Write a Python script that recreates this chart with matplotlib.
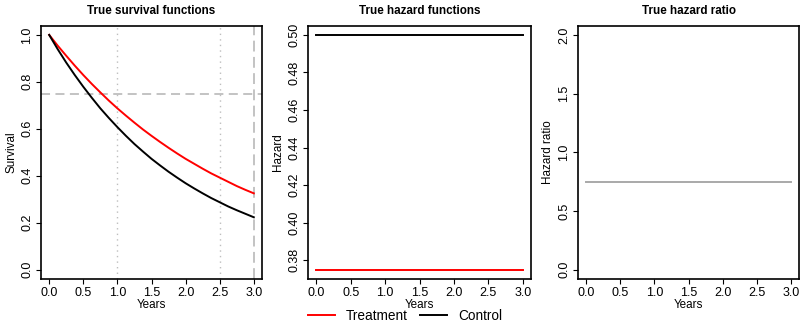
import matplotlib
matplotlib.use("Agg")
import matplotlib.pyplot as plt
from matplotlib.lines import Line2D

plt.rcParams['font.family'] = ['Liberation Sans', 'DejaVu Sans']

# --------------------------------------------------------------------------
# Data
# --------------------------------------------------------------------------
years = [0.0, 0.125, 0.25, 0.375, 0.5, 0.625, 0.75, 0.875, 1.0, 1.125, 1.25, 1.375, 1.5,
         1.625, 1.75, 1.875, 2.0, 2.125, 2.25, 2.375, 2.5, 2.625, 2.75, 2.875, 3.0]
surv_treatment = [1.0, 0.954, 0.911, 0.869, 0.829, 0.791, 0.755, 0.720, 0.687, 0.656, 0.626, 0.597, 0.570,
                  0.544, 0.519, 0.495, 0.472, 0.451, 0.430, 0.410, 0.392, 0.374, 0.356, 0.340, 0.325]
surv_control = [1.0, 0.939, 0.882, 0.829, 0.779, 0.732, 0.687, 0.646, 0.607, 0.570, 0.535, 0.503, 0.472,
                0.444, 0.417, 0.392, 0.368, 0.346, 0.325, 0.305, 0.287, 0.269, 0.253, 0.238, 0.223]

hazard_years = [0.0, 3.0]
hazard_treatment = [0.375, 0.375]
hazard_control = [0.5, 0.5]
hazard_ratio = [0.75, 0.75]

survival_ref = 0.75
dotted_years = [1.0, 2.5]
dashed_year = 3.0

x_ticks = [0.0, 0.5, 1.0, 1.5, 2.0, 2.5, 3.0]
surv_ticks = [0.0, 0.2, 0.4, 0.6, 0.8, 1.0]
hazard_ticks = [0.38, 0.40, 0.42, 0.44, 0.46, 0.48, 0.50]
ratio_ticks = [0.0, 0.5, 1.0, 1.5, 2.0]

RED = '#FF0000'
GREY_LINE = '#BEBEBE'
RATIO_COL = '#A9A9A9'


def r_lim(lo, hi):
    pad = (hi - lo) * 0.04
    return lo - pad, hi + pad


def style_axes(ax, title, ylabel, yticks, yfmt):
    ax.set_title(title, fontsize=8.4, fontweight='bold', pad=8)
    ax.set_xlim(*r_lim(0, 3))
    ax.set_xticks(x_ticks)
    ax.set_xticklabels([f'{t:.1f}' for t in x_ticks])
    ax.set_yticks(yticks)
    ax.set_yticklabels([yfmt.format(t) for t in yticks], rotation=90, va='center')
    ax.set_xlabel('Years', fontsize=8.4, labelpad=0)
    ax.set_ylabel(ylabel, fontsize=8.4, labelpad=3)
    ax.tick_params(axis='both', labelsize=9, length=3.5, width=0.8, pad=2, color='black')
    for s in ax.spines.values():
        s.set_linewidth(1.2)


fig = plt.figure(figsize=(8, 3.22), dpi=100)
H = 322.0
W = 800.0


def add_ax(left, right, top=25.5, bottom=279.0):
    return fig.add_axes([left / W, (H - bottom) / H, (right - left) / W, (bottom - top) / H])


# Panel 1: survival
ax1 = add_ax(41, 262)
for t in dotted_years:
    ax1.axvline(t, color=GREY_LINE, linestyle=(0, (1, 3)), linewidth=1)
ax1.axvline(dashed_year, color=GREY_LINE, linestyle=(0, (6, 3)), linewidth=1.3)
ax1.axhline(survival_ref, color=GREY_LINE, linestyle=(0, (5, 3)), linewidth=1.3)
ax1.plot(years, surv_treatment, color=RED, linewidth=1.4)
ax1.plot(years, surv_control, color='black', linewidth=1.4)
ax1.set_ylim(*r_lim(0, 1))
style_axes(ax1, 'True survival functions', 'Survival', surv_ticks, '{:.1f}')

# Panel 2: hazards
ax2 = add_ax(308, 531)
ax2.plot(hazard_years, hazard_control, color='black', linewidth=1.4)
ax2.plot(hazard_years, hazard_treatment, color=RED, linewidth=1.4)
ax2.set_ylim(*r_lim(0.375, 0.5))
style_axes(ax2, 'True hazard functions', 'Hazard', hazard_ticks, '{:.2f}')

# Panel 3: hazard ratio
ax3 = add_ax(578, 799)
ax3.plot(hazard_years, hazard_ratio, color=RATIO_COL, linewidth=1.4)
ax3.set_ylim(*r_lim(0, 2))
style_axes(ax3, 'True hazard ratio', 'Hazard ratio', ratio_ticks, '{:.1f}')

handles = [Line2D([], [], color=RED, linewidth=1.4),
           Line2D([], [], color='black', linewidth=1.4)]
fig.legend(handles, ['Treatment', 'Control'], loc='center', bbox_to_anchor=(405 / W, 6 / H),
           ncol=2, frameon=False, fontsize=9.8, handlelength=2.0, handletextpad=0.8,
           columnspacing=0.9, borderpad=0)

fig.savefig('out.png', dpi=100)
